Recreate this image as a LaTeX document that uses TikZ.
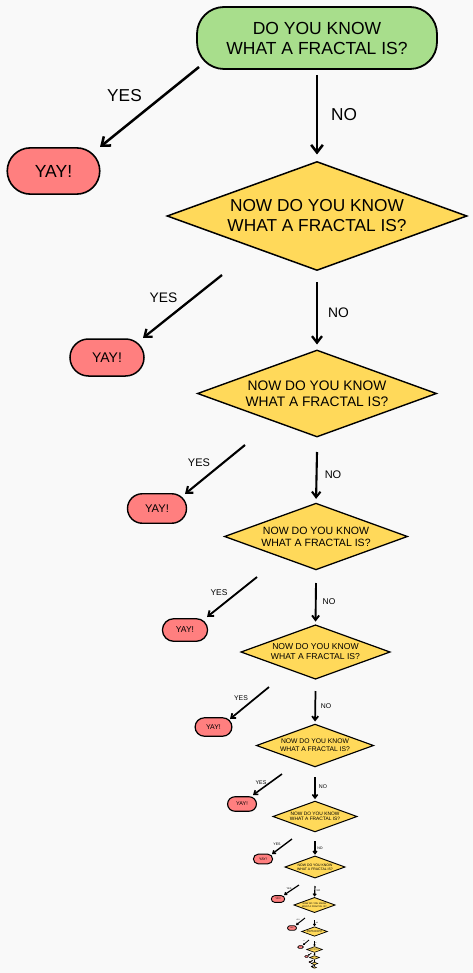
\documentclass[tikz,border=0pt]{standalone}
\usepackage{fontspec}
\setmainfont{Liberation Sans}
\usetikzlibrary{shapes.geometric,shapes.misc,arrows.meta}
\definecolor{bgc}{HTML}{F9F9F9}
\definecolor{grc}{HTML}{A8DE8C}
\definecolor{rdc}{HTML}{FF7F7F}
\definecolor{ylc}{HTML}{FFD95A}
\newcommand\arrowset[1]{%
  \pgfmathsetmacro\Lw{2.3*(#1)^0.4}%
  \pgfmathsetmacro\Al{6.5*(#1)^0.7}%
  \pgfmathsetmacro\Aw{10*(#1)^0.7}%
  \pgfmathsetmacro\Bw{1.5*(#1)^0.3}}
\tikzset{
  qbox/.style={rectangle, draw=black, fill=grc, rounded corners=27pt, minimum width=240pt, minimum height=62pt, inner sep=0pt, align=center, font=\fontsize{17.5}{20}\selectfont, line width=1.8pt},
  dia/.style={diamond, aspect=2.75, draw=black, fill=ylc, minimum width=300pt, minimum height=109pt, inner sep=0pt, align=center, font=\fontsize{17.3}{20}\selectfont},
  yay/.style={rounded rectangle, draw=black, fill=rdc, minimum width=74pt, minimum height=37pt, inner sep=0pt, font=\fontsize{14}{16}\selectfont},
  lbl/.style={inner sep=0pt, font=\fontsize{13.8}{16}\selectfont},
  arr/.style={line width=\Lw pt, -{Straight Barb[length=\Al pt, width=\Aw pt]}}
}
\newcommand\qd[4]{\arrowset{#4}\node[dia, scale=#4, line width=\Bw pt] (#1) at (#2,#3) {NOW DO YOU KNOW\\WHAT A FRACTAL IS?};}
\newcommand\lev[9]{%
  \arrowset{#3}%
  \coordinate (ys#1) at (#4);
  \coordinate (ye#1) at (#5);
  \draw[arr] (ys#1) -- (ye#1);
  \node[lbl, scale=#3] (yl#1) at (#6) {YES};
  \node[yay, scale=#3, line width=\Bw pt] (yay#1) at (#7) {YAY!};
  \coordinate (ns#1) at (#8);
  \draw[arr, shorten >={5pt*#3}] (ns#1) -- (#2.north);
  \node[lbl, scale=#3] (nl#1) at (#9) {NO};
}
\begin{document}
\begin{tikzpicture}[x=1pt,y=-1pt]
\fill[bgc] (0,0) rectangle (473,973);
\useasboundingbox (0,0) rectangle (473,973);
% diamonds
\qd{d1}{317}{216}{1}
\qd{d2}{317}{393.5}{0.797}
\qd{d3}{316}{536.5}{0.61}
\qd{d4}{315.5}{652}{0.497}
\qd{d5}{315}{745.5}{0.39}
\qd{d6}{315}{816.5}{0.28}
\qd{d7}{315}{867}{0.2}
\qd{d8}{314.5}{905}{0.137}
\qd{d9}{314.5}{931.5}{0.085}
\qd{d10}{314.5}{949.5}{0.052}
\qd{d11}{314.5}{957.5}{0.033}
\qd{d12}{314.5}{963.5}{0.022}
\qd{d13}{314.5}{967.5}{0.014}
% top level
\node[qbox] (q0) at (317,38) {DO YOU KNOW\\WHAT A FRACTAL IS?};
\lev{0}{d1}{1.25}{199,67}{100,147}{124.5,95.5}{53.5,171}{317,75}{344,114.5}
% levels
\lev{1}{d2}{1}{222,275}{143,338}{163.5,297.5}{107,357.5}{317,282}{338.5,313}
\lev{2}{d3}{0.797}{245,445}{185,494}{199,463}{157,508.5}{317,452}{333,475}
\lev{3}{d4}{0.61}{257,577}{207,617}{219,593}{185,630}{316,583}{329,602}
\lev{4}{d5}{0.497}{269,687}{230,719}{241,698}{213.5,727}{315.5,691}{326,706}
\lev{5}{d6}{0.39}{282,774}{253,795}{261,783}{242,804}{315,777}{323,787}
\lev{6}{d7}{0.26}{292,839}{272,854}{277,844}{263,859}{315,841}{320,848}
\lev{7}{d8}{0.18}{299,885}{284,895}{289,889}{278,899}{315,886}{318.5,891}
\lev{8}{d9}{0.12}{305,918}{296,925}{298,920}{292,928}{314.5,920}{317,923}
\lev{9}{d10}{0.075}{309,940}{303,945}{304,941}{300.5,947}{314.5,941}{316,943}
\lev{10}{d11}{0.048}{311.5,953}{308,955.5}{308,953}{306.5,956.5}{314.5,953}{315.5,954.5}
\lev{11}{d12}{0.03}{313,960}{311,961.5}{311,960}{310,962}{314.5,959.5}{315,960}
\lev{12}{d13}{0.02}{313.5,965}{312.5,966}{312.5,965}{312,966.5}{314.5,965}{315,965.5}
\end{tikzpicture}
\end{document}
